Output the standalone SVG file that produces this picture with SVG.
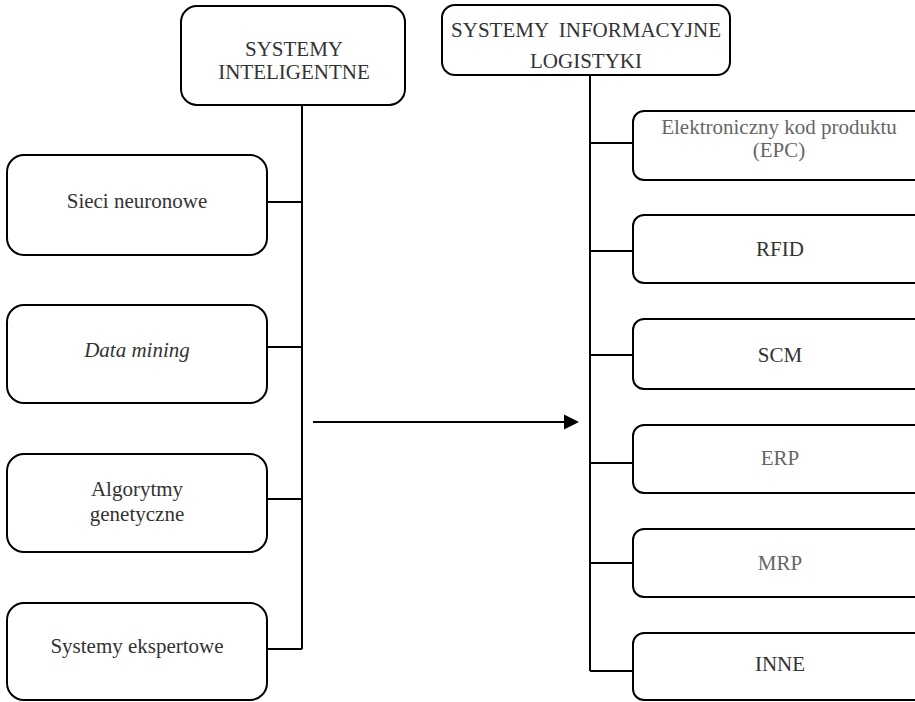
<svg xmlns="http://www.w3.org/2000/svg" width="915" height="702" viewBox="0 0 915 702">
<style>
.box{fill:#fff;stroke:#000;stroke-width:2}
.t{font-size:21px;fill:#333;text-anchor:middle}
.g{fill:#666}
.c{fill:none;stroke:#000;stroke-width:2}
</style>
<g id="connectors">
<path class="c" d="M302 105 V649"/>
<path class="c" d="M267 202 H302 M267 347 H302 M267 499 H302 M267 649 H302"/>
<path class="c" d="M590 75 V671"/>
<path class="c" d="M590 143 H633 M590 251 H633 M590 355 H633 M590 463 H633 M590 563 H633 M590 671 H633"/>
<line x1="313" y1="422" x2="566" y2="422" stroke="#000" stroke-width="2"/>
<polygon points="564,414.5 579,422 564,429.5" fill="#000"/>
</g>
<g font-family="Liberation Serif, Times New Roman, Times, serif">
<g id="n-inteligentne">
<rect class="box" x="181" y="6" width="224" height="99" rx="16"/>
<text class="t" x="294" y="56">SYSTEMY</text>
<text class="t" x="294" y="79">INTELIGENTNE</text>
</g>
<g id="n-logistyki">
<rect class="box" x="442" y="5" width="288" height="70" rx="13"/>
<text class="t" x="586" y="37" xml:space="preserve">SYSTEMY  INFORMACYJNE</text>
<text class="t" x="586" y="68">LOGISTYKI</text>
</g>
<g id="n-sieci">
<rect class="box" x="7" y="155" width="260" height="100" rx="17"/>
<text class="t" x="137" y="208">Sieci neuronowe</text>
</g>
<g id="n-datamining">
<rect class="box" x="7" y="305" width="260" height="98" rx="17"/>
<text class="t" x="137" y="357" font-style="italic">Data mining</text>
</g>
<g id="n-algorytmy">
<rect class="box" x="7" y="454" width="260" height="98" rx="17"/>
<text class="t" x="137" y="496">Algorytmy</text>
<text class="t" x="137" y="521">genetyczne</text>
</g>
<g id="n-eksperckie">
<rect class="box" x="7" y="603" width="260" height="97" rx="17"/>
<text class="t" x="137" y="653">Systemy ekspertowe</text>
</g>
<g id="n-epc">
<rect class="box" x="633" y="111" width="300" height="69" rx="11"/>
<text class="t g" x="779" y="134">Elektroniczny kod produktu</text>
<text class="t g" x="779" y="157">(EPC)</text>
</g>
<g id="n-rfid">
<rect class="box" x="633" y="215" width="300" height="68" rx="11"/>
<text class="t" x="780" y="256">RFID</text>
</g>
<g id="n-scm">
<rect class="box" x="633" y="319" width="300" height="70" rx="11"/>
<text class="t" x="780" y="362">SCM</text>
</g>
<g id="n-erp">
<rect class="box" x="633" y="425" width="300" height="68" rx="11"/>
<text class="t g" x="780" y="465">ERP</text>
</g>
<g id="n-mrp">
<rect class="box" x="633" y="529" width="300" height="68" rx="11"/>
<text class="t g" x="780" y="570">MRP</text>
</g>
<g id="n-inne">
<rect class="box" x="633" y="633" width="300" height="67" rx="11"/>
<text class="t" x="780" y="671">INNE</text>
</g>
</g>
</svg>
